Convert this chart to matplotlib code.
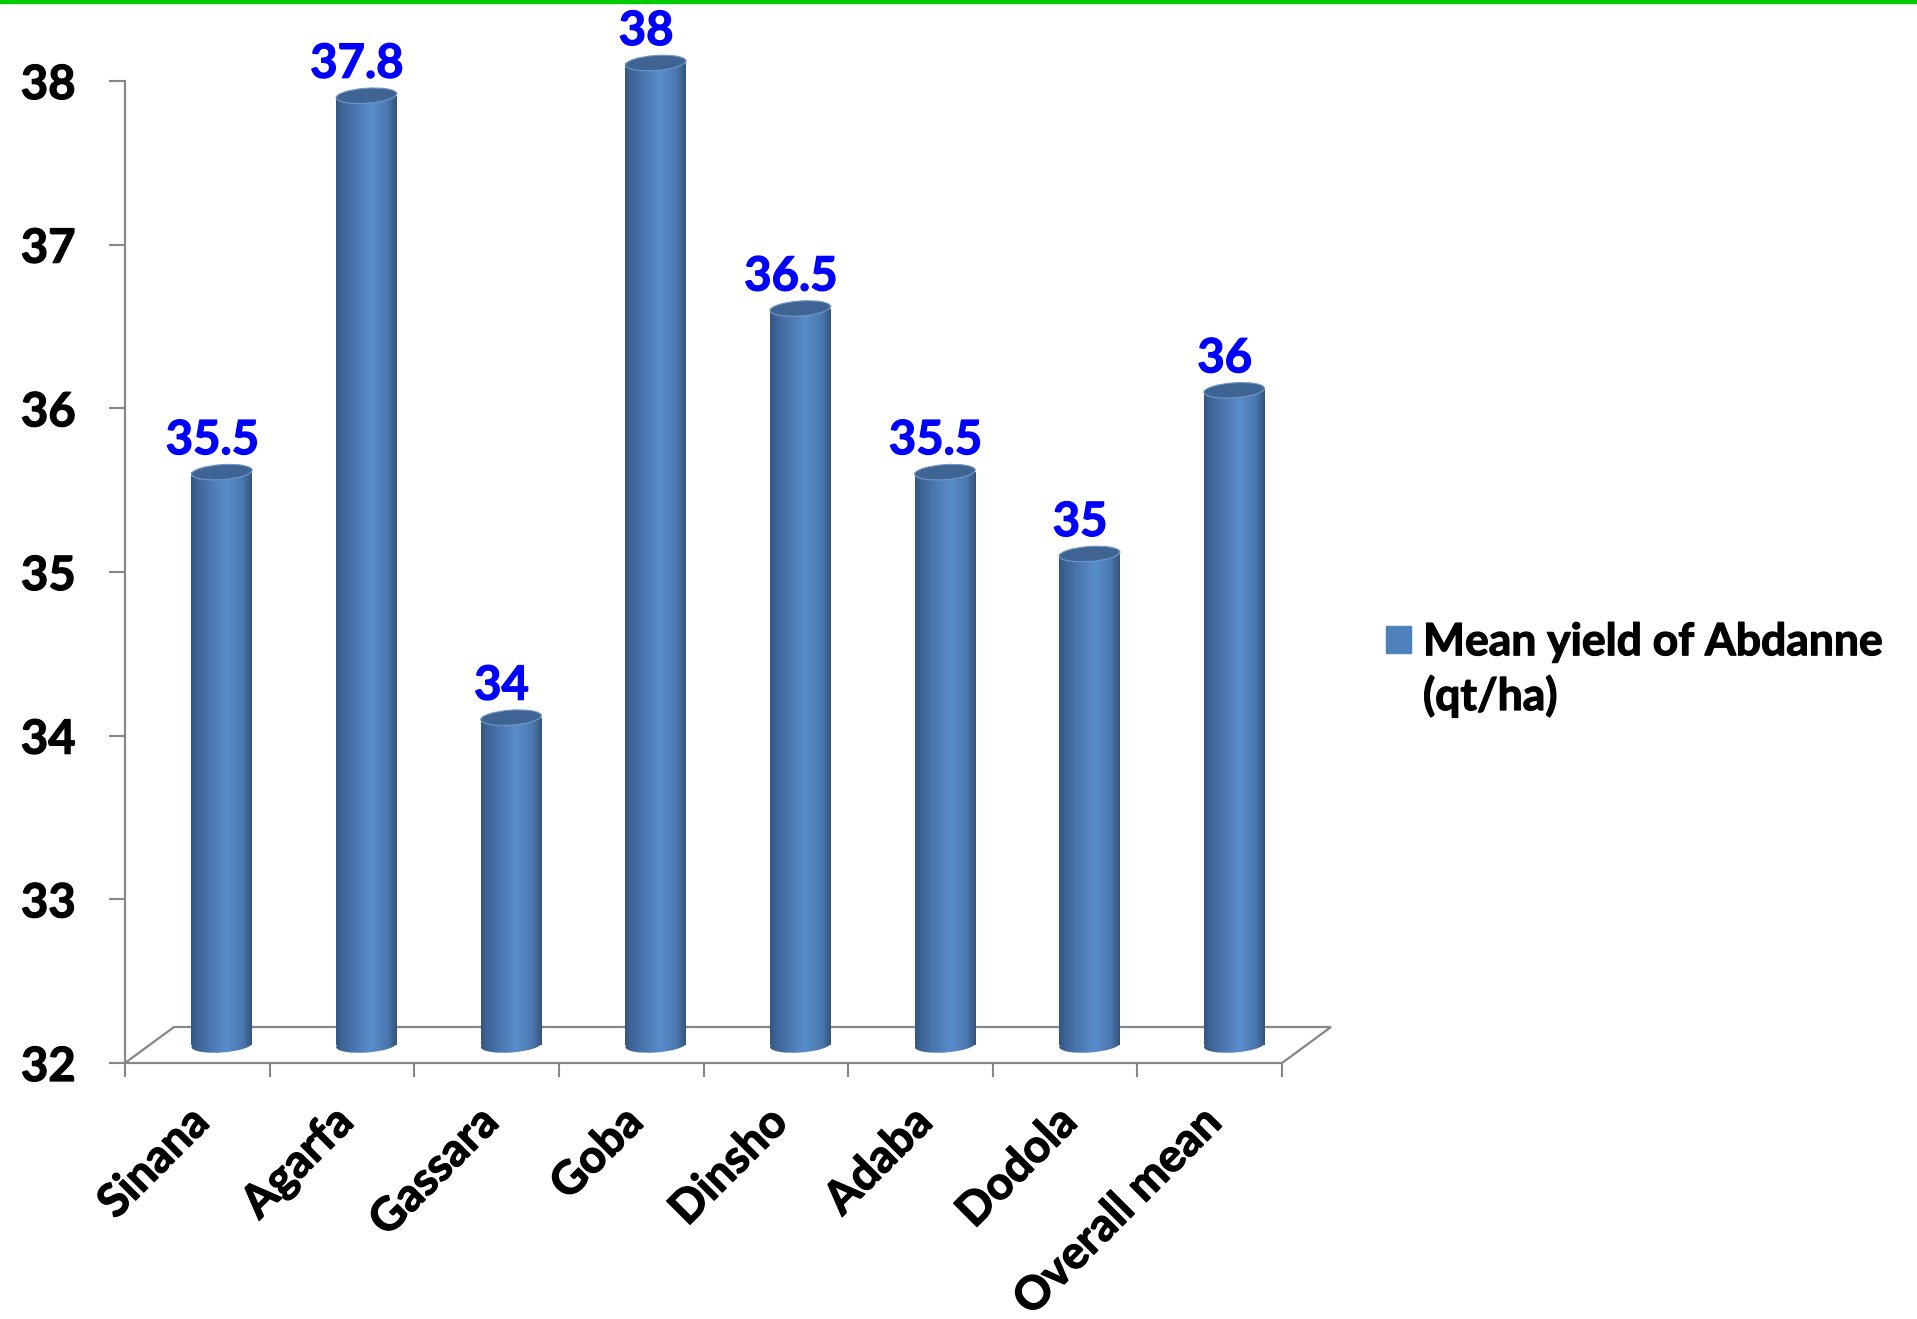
import matplotlib
matplotlib.use("Agg")
import matplotlib.pyplot as plt
import numpy as np
from matplotlib.colors import LinearSegmentedColormap
from matplotlib.patches import Ellipse, Polygon, Rectangle
from matplotlib.transforms import ScaledTranslation
import matplotlib.patheffects as pe

# data
sites = ["Sinana", "Agarfa", "Gassara", "Goba", "Dinsho", "Adaba", "Dodola", "Overall mean"]
yields = [35.5, 37.8, 34.0, 38.0, 36.5, 35.5, 35.0, 36.0]
y_ticks = [32, 33, 34, 35, 36, 37, 38]
legend_label = "Mean yield of Abdanne\n(qt/ha)"

GRAY = "#868686"
BLUE = "#4F81BD"
DPI = 100
W_PX, H_PX = 1917, 1319
DX_IN, DY_IN = 0.49, 0.36   # depth of the fake 3D floor, inches
BAR_W = 0.42
ELL_H = 0.15                # cylinder cap height, inches

plt.rcParams["font.family"] = ["Lato", "DejaVu Sans"]
plt.rcParams["font.weight"] = "bold"

# Lato bold is a touch lighter than the original face, thicken a little
thick = [pe.withStroke(linewidth=0.9, foreground="black")]

fig = plt.figure(figsize=(W_PX / DPI, H_PX / DPI), dpi=DPI)
ax_l, ax_b, ax_w, ax_h = 125, 256, 1157, 982     # pixels
ax = fig.add_axes([ax_l / W_PX, ax_b / H_PX, ax_w / W_PX, ax_h / H_PX])
n = len(sites)
base = y_ticks[0]
ax.set_xlim(-0.5, n - 0.5)
ax.set_ylim(y_ticks[0], y_ticks[-1])

px_x = ax_w / n
px_y = ax_h / (y_ticks[-1] - y_ticks[0])
dx_d = DX_IN * DPI / px_x
dy_d = DY_IN * DPI / px_y

# floor
floor = Polygon([(-0.5, base), (n - 0.5, base), (n - 0.5 + dx_d, base + dy_d), (-0.5 + dx_d, base + dy_d)],
                closed=True, fill=False, edgecolor=GRAY, lw=1.6, clip_on=False, zorder=1)
ax.add_patch(floor)

# cylinders sit half way into the floor depth
mid = ax.transData + ScaledTranslation(DX_IN / 2, DY_IN / 2, fig.dpi_scale_trans)
cmap = LinearSegmentedColormap.from_list(
    "cyl", [(0, "#34567F"), (0.12, "#40669A"), (0.58, "#5A8DCC"), (0.85, "#4A77AF"), (1, "#33547C")])
grad = np.linspace(0, 1, 256).reshape(1, -1)
ell_w = BAR_W * px_x / DPI


def at(x, y):
    return fig.dpi_scale_trans + ScaledTranslation(x, y, mid)


for i, v in enumerate(yields):
    bar = ax.bar(i, v - base, BAR_W, bottom=base, transform=mid, color="none", lw=0, zorder=2)[0]
    bar.set_clip_on(False)
    img = ax.imshow(grad, cmap=cmap, aspect="auto", interpolation="bilinear",
                    extent=(i - BAR_W / 2, i + BAR_W / 2, base, v), transform=mid, zorder=2)
    img.set_clip_box(None)
    img.set_clip_path(bar)

    bottom = Ellipse((0, 0), ell_w, ELL_H, angle=4, transform=at(i, base), fc="none", lw=0)
    ax.add_patch(bottom)
    bottom.set_clip_on(False)
    img2 = ax.imshow(grad, cmap=cmap, aspect="auto", interpolation="bilinear",
                     extent=(i - BAR_W / 2, i + BAR_W / 2, base - 0.1, base + 0.05), transform=mid, zorder=2)
    img2.set_clip_box(None)
    img2.set_clip_path(bottom)

    top = Ellipse((0, 0), ell_w, ELL_H, angle=4, transform=at(i, v),
                  fc="#3F6493", ec="#7098C8", lw=0.8, zorder=3, clip_on=False)
    ax.add_patch(top)

    ax.text(i, v, f"{v:g}", transform=ax.transData + ScaledTranslation(0.15, 0.36, fig.dpi_scale_trans),
            ha="center", va="baseline", color="#0000FF", fontsize=34, fontweight="bold", clip_on=False,
            path_effects=[pe.withStroke(linewidth=0.9, foreground="#0000FF")])

ax.set_xlim(-0.5, n - 0.5)
ax.set_ylim(y_ticks[0], y_ticks[-1])

# axes styling
for s in ["top", "right", "bottom"]:
    ax.spines[s].set_visible(False)
ax.spines["left"].set_color(GRAY)
ax.spines["left"].set_linewidth(1.6)

ax.set_yticks(y_ticks)
ax.tick_params(axis="y", length=11.5, width=1.5, color=GRAY, pad=24, labelsize=34)
ax.set_xticks(range(n))
ax.set_xticklabels(sites, rotation=45, ha="right", rotation_mode="anchor", fontsize=33)
ax.set_xticks(np.arange(n + 1) - 0.5, minor=True)
ax.tick_params(axis="x", which="major", length=0, pad=27)
ax.tick_params(axis="x", which="minor", length=10, width=1.5, color=GRAY)
shift = ScaledTranslation(-0.1, 0, fig.dpi_scale_trans)
for lab in ax.get_xticklabels():
    lab.set_transform(lab.get_transform() + shift)
for lab in ax.get_xticklabels() + ax.get_yticklabels():
    lab.set_path_effects(thick)

# legend (square aligned with first text line)
fig.add_artist(Rectangle((1386 / W_PX, (H_PX - 653) / H_PX), 25 / W_PX, 27 / H_PX,
                         transform=fig.transFigure, color=BLUE))
fig.text(1423 / W_PX, (H_PX - 710) / H_PX, legend_label, ha="left", va="baseline",
         fontsize=32, fontweight="bold", linespacing=1.38, path_effects=thick)

# green rule along the top edge
fig.add_artist(Rectangle((0, 1 - 3 / H_PX), 1, 3 / H_PX, transform=fig.transFigure, color="#00CC00"))

fig.savefig("out.png", dpi=DPI)
